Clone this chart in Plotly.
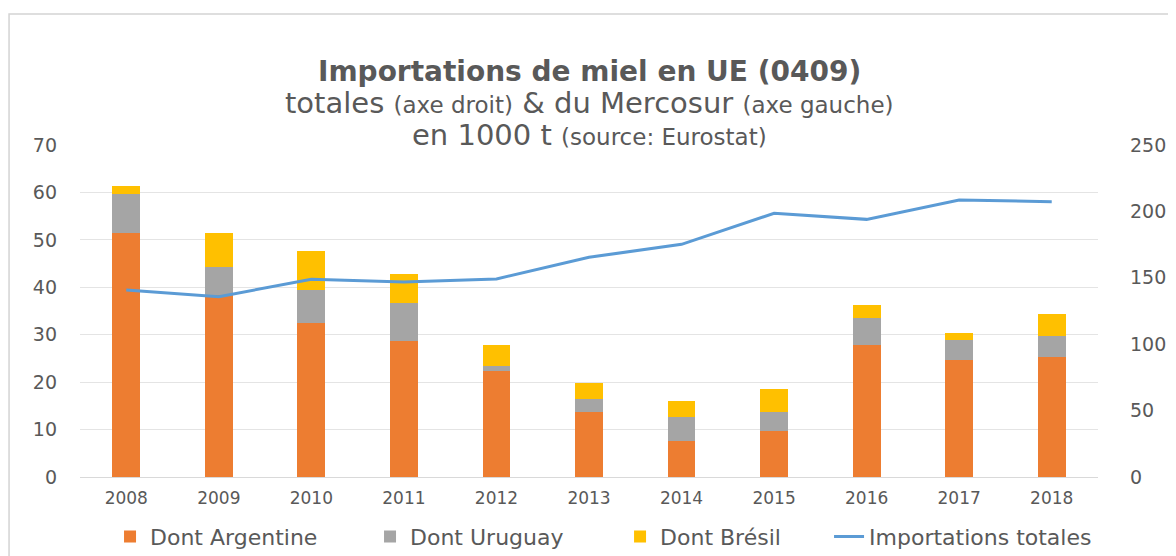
import plotly.graph_objects as go
from plotly.subplots import make_subplots

years = ["2008", "2009", "2010", "2011", "2012", "2013", "2014", "2015", "2016", "2017", "2018"]
argentine = [51.4, 38.4, 32.4, 28.7, 22.3, 13.7, 7.6, 9.6, 27.8, 24.7, 25.2]
uruguay = [8.3, 5.9, 7.0, 7.9, 1.2, 2.7, 5.1, 4.1, 5.7, 4.2, 4.5]
bresil = [1.7, 7.1, 8.3, 6.3, 4.3, 3.35, 3.3, 4.8, 2.8, 1.5, 4.6]
totales = [140.8, 135.8, 148.9, 146.8, 149.1, 165.4, 175.2, 198.6, 194.0, 208.6, 207.3]

txt = "#595959"
font = "DejaVu Sans"
fig = make_subplots(specs=[[{"secondary_y": True}]])
for name, vals, col, leg in [("Dont Argentine", argentine, "#ED7D31", "legend"),
                             ("Dont Uruguay", uruguay, "#A5A5A5", "legend2"),
                             ("Dont Brésil", bresil, "#FFC000", "legend3")]:
    fig.add_trace(go.Bar(x=years, y=vals, name=name, marker_color=col, showlegend=True,
                         marker_line_width=0, legend=leg), secondary_y=False)
fig.add_trace(go.Scatter(x=years, y=totales, name="Importations totales", mode="lines",
                         line=dict(color="#5B9BD5", width=3), legend="legend4", showlegend=True),
              secondary_y=True)

# title lines
small = "<span style='font-size:23px'>%s</span>"
lines = [
    ("<b>Importations de miel en UE (0409)</b>", 1.22, 28),
    ("totales " + small % "(axe droit)" + " &amp; du Mercosur " + small % "(axe gauche)", 1.1265, 29),
    ("en 1000 t " + small % "(source: Eurostat)", 1.03, 29),
]
for text, ypos, size in lines:
    fig.add_annotation(text=text, xref="paper", yref="paper", x=0.5, y=ypos,
                       xanchor="center", yanchor="middle", showarrow=False,
                       font=dict(family=font, size=size, color=txt))

fig.add_shape(type="rect", xref="paper", yref="paper", x0=-0.0697, y0=-0.4, x1=1.2, y1=1.3946,
              line=dict(color="#D4D4D4", width=1.5), layer="below")

leg_font = dict(family=font, size=22, color=txt)
legs = {}
for key, xpos in [("legend", 0.0295), ("legend2", 0.2849), ("legend3", 0.5305), ("legend4", 0.7358)]:
    legs[key] = dict(orientation="h", x=xpos, xanchor="left", y=-0.18, yanchor="middle",
                     font=leg_font, bgcolor="rgba(0,0,0,0)")

# page body adds 8px offset; margins compensate
fig.update_layout(
    width=1176, height=556,
    margin=dict(l=72, r=86, t=137, b=87, autoexpand=False),
    plot_bgcolor="white", paper_bgcolor="white",
    barmode="stack", bargap=0.7, showlegend=True,
    font=dict(family=font, color=txt),
    **legs,
)
fig.update_xaxes(domain=[0, 1], showline=True, linecolor="#D9D9D9", linewidth=1, ticks="",
                 tickfont=dict(size=17, color=txt), ticklabelstandoff=6, automargin=False)
fig.update_yaxes(range=[0, 70], dtick=10, showgrid=True, gridcolor="#E4E4E4", zeroline=False,
                 tickfont=dict(size=19, color=txt), ticklabelstandoff=22, automargin=False,
                 secondary_y=False)
fig.update_yaxes(range=[0, 250], dtick=50, showgrid=False, zeroline=False,
                 tickfont=dict(size=19, color=txt), ticklabelstandoff=31, automargin=False,
                 secondary_y=True)

fig.write_html("out.html")
